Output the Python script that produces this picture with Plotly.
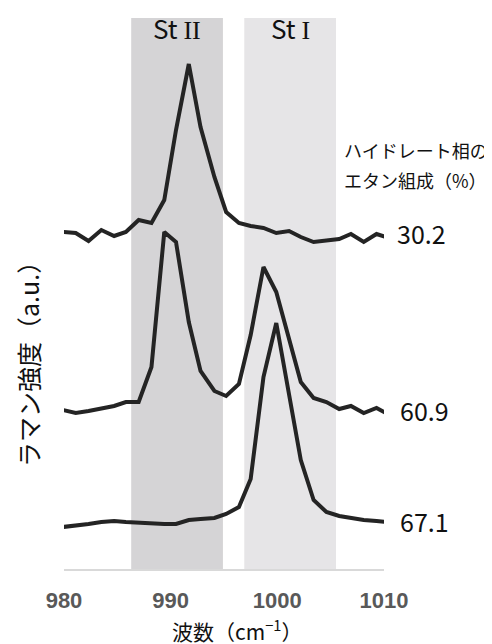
import plotly.graph_objects as go

# wavenumber grid (cm^-1)
wavenumber = [979.9, 981.1, 982.3, 983.5, 984.7, 985.8, 987.0, 988.2, 989.4, 990.5,
              991.7, 992.8, 994.1, 995.2, 996.4, 997.5, 998.7, 999.9, 1001.1, 1002.2,
              1003.4, 1004.6, 1005.8, 1006.9, 1008.1, 1009.3, 1010.2]

# offset Raman intensity (a.u.)
s_30_2 = [337, 336, 328, 339, 333, 337, 349, 346, 369, 439, 505, 442, 392, 357, 346,
          343, 341, 336, 338, 332, 327, 328, 330, 335, 327, 335, 332]
s_60_9 = [159, 156, 158, 160, 163, 167, 167, 202, 337, 327, 247, 198, 178, 173, 185,
          234, 302, 277, 231, 187, 171, 167, 160, 163, 156, 161, 156]
s_67_1 = [42, 43, 45, 47, 48, 47, 46, 46, 45, 45, 49, 50, 51, 55, 62, 90, 192, 246,
          172, 109, 69, 57, 53, 51, 49, 48, 47]

series = [("30.2", s_30_2), ("60.9", s_60_9), ("67.1", s_67_1)]

# structure bands (cm^-1)
band_prefix = ["St", "St"]
band_numerals = ["II", "I"]
band_ranges = [(986.3, 994.9), (996.9, 1005.5)]
band_colors = ["#d5d4d6", "#e6e5e7"]

x_ticks = [980, 990, 1000, 1010]

# page has an 8px body margin: figure origin sits at (8, 8)
OFF = 8
W, H = 492 - OFF, 644 - OFF
L, R, T, B = 64 - OFF, 108, 18 - OFF, 75
pw, ph = W - L - R, H - T - B


def px(x):  # page pixel -> paper x
    return (x - OFF - L) / pw


def py(y):  # page pixel -> paper y
    return (H - B - (y - OFF)) / ph


font = "Noto Sans CJK JP"
fig = go.Figure()

for (x0, x1), c in zip(band_ranges, band_colors):
    fig.add_shape(type="rect", xref="x", yref="paper", x0=x0, x1=x1, y0=0, y1=1,
                  fillcolor=c, line_width=0, layer="below")

for name, vals in series:
    fig.add_trace(go.Scatter(x=wavenumber, y=vals, mode="lines", name=name,
                             line=dict(color="#242424", width=4),
                             showlegend=False, hoverinfo="skip"))

ann = []
for (x0, x1), pre, num in zip(band_ranges, band_prefix, band_numerals):
    ann.append(dict(x=(x0 + x1) / 2, xref="x", y=py(28), yref="paper",
                    text=f"{pre} <span style='font-family:Liberation Serif'>{num}</span>",
                    showarrow=False, font=dict(size=26, color="#111", family=font),
                    xanchor="center", yanchor="middle"))
label_pos = [(395, 233), (398, 410), (398, 521)]
for (name, _), (lx, ly) in zip(series, label_pos):
    ann.append(dict(x=px(lx), xref="paper", y=py(ly), yref="paper", text=name,
                    showarrow=False, font=dict(size=25, color="#111", family=font),
                    xanchor="left", yanchor="middle"))
ann.append(dict(x=px(342), xref="paper", y=py(150), yref="paper", text="ハイドレート相の",
                showarrow=False, font=dict(size=18, color="#111", family=font),
                xanchor="left", yanchor="middle"))
ann.append(dict(x=px(342), xref="paper", y=py(180), yref="paper", text="エタン組成（%）",
                showarrow=False, font=dict(size=18, color="#111", family=font),
                xanchor="left", yanchor="middle"))
ann.append(dict(x=px(237), xref="paper", y=py(630), yref="paper",
                text="波数（cm<sup>−1</sup>）", showarrow=False,
                font=dict(size=21, color="#111", family=font),
                xanchor="center", yanchor="middle"))
ann.append(dict(x=px(28), xref="paper", y=py(358), yref="paper",
                text="ラマン強度（a.u.）", showarrow=False, textangle=-90,
                font=dict(size=25, color="#111", family=font),
                xanchor="center", yanchor="middle"))

fig.update_layout(
    width=W, height=H,
    margin=dict(l=L, r=R, t=T, b=B),
    paper_bgcolor="white", plot_bgcolor="white",
    annotations=ann,
    xaxis=dict(range=[980, 1010], tickvals=x_ticks, ticktext=[str(t) for t in x_ticks],
               showgrid=False, zeroline=False, showline=True, linecolor="#d9d9d9",
               linewidth=1.5, ticks="", ticklabelstandoff=11,
               tickfont=dict(size=22, color="#595959",
                             family="Liberation Sans Narrow, Liberation Sans",
                             weight="bold")),
    yaxis=dict(range=[0, ph], showgrid=False, zeroline=False, showline=False,
               showticklabels=False, ticks=""),
)

fig.write_html("out.html")
